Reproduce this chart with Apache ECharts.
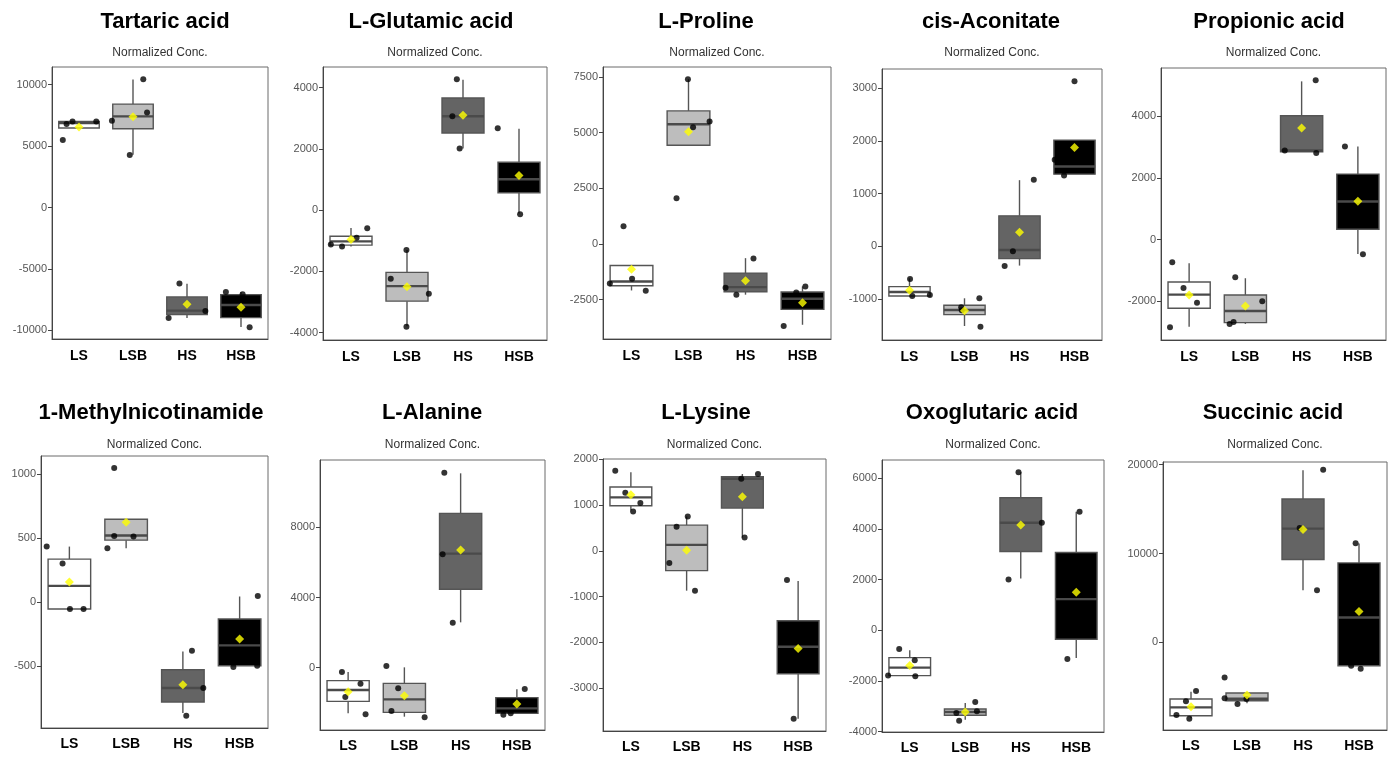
<!DOCTYPE html>
<html><head><meta charset="utf-8">
<script src="https://cdn.jsdelivr.net/npm/echarts@6/dist/echarts.min.js"></script>
<style>html,body{margin:0;padding:0;background:#fff}#c{width:1390px;height:759px}</style>
</head><body><div id="c"></div>
<script>
const categories = ['LS', 'LSB', 'HS', 'HSB'];
const titles = ['Tartaric acid', 'L-Glutamic acid', 'L-Proline', 'cis-Aconitate', 'Propionic acid',
  '1-Methylnicotinamide', 'L-Alanine', 'L-Lysine', 'Oxoglutaric acid', 'Succinic acid'];
const subtitle = 'Normalized Conc.';

// box stats per group: [lower whisker, Q1, median, Q3, upper whisker]
// points: [group, jitter offset, value]
const tartaricBox = [[6470, 6470, 6880, 7010, 7010], [4290, 6410, 7420, 8420, 10430], [-8990, -8720, -8400, -7280, -6200], [-9720, -8970, -7940, -7090, -6880]];
const tartaricPoints = [[0,-0.30,5490],[0,-0.23,6790],[0,-0.12,7010],[0,0.32,7010],[1,-0.39,7065],[1,-0.06,4266],[1,0.19,10435],[1,0.26,7745],[2,-0.34,-8995],[2,-0.14,-6196],[2,0.34,-8424],[3,-0.28,-6875],[3,0.03,-7065],[3,0.16,-9755]];
const tartaricMean = [6560, 7390, -7880, -8120];
const tartaricTicks = [-10000, -5000, 0, 5000, 10000];
const tartaricRange = [-10707, 11440];

const glutamicBox = [[-1190, -1140, -1020, -850, -580], [-3790, -2970, -2480, -2030, -1300], [2010, 2520, 3065, 3660, 4260], [-110, 565, 1010, 1565, 2660]];
const glutamicPoints = [[0,-0.36,-1120],[0,-0.16,-1185],[0,0.10,-902],[0,0.29,-587],[1,-0.29,-2239],[1,-0.01,-1304],[1,-0.01,-3804],[1,0.39,-2728],[2,-0.11,4272],[2,-0.19,3065],[2,-0.06,2011],[3,-0.38,2674],[3,0.02,-130]];
const glutamicMean = [-957, -2500, 3098, 1130];
const glutamicTicks = [-4000, -2000, 0, 2000, 4000];
const glutamicRange = [-4239, 4674];

const prolineBox = [[-2090, -1880, -1690, -970, -970], [4430, 4430, 5370, 5970, 7390], [-2280, -2150, -1940, -1310, -640], [-3630, -2940, -2460, -2160, -1910]];
const prolinePoints = [[0,-0.38,-1776],[0,-0.14,791],[0,0.01,-1567],[0,0.25,-2104],[1,-0.21,2045],[1,-0.01,7388],[1,0.08,5239],[1,0.37,5493],[2,-0.35,-1970],[2,-0.16,-2284],[2,0.14,-657],[3,-0.33,-3687],[3,0.05,-1910],[3,-0.11,-2180]];
const prolineMean = [-1134, 5030, -1657, -2642];
const prolineTicks = [-2500, 0, 2500, 5000, 7500];
const prolineRange = [-4269, 7940];

const aconitateBox = [[-950, -943, -867, -766, -608], [-1513, -1297, -1209, -1120, -987], [-367, -234, -70, 576, 1253], [1367, 1367, 1513, 2013, 2013]];
const aconitatePoints = [[0,0.01,-620],[0,0.05,-943],[0,0.37,-924],[1,-0.06,-1158],[1,0.27,-987],[1,0.29,-1525],[1,-0.05,-1215],[2,-0.27,-373],[2,-0.12,-95],[2,0.26,1259],[3,-0.36,1639],[3,-0.19,1342],[3,0.00,3127]];
const aconitateMean = [-835, -1222, 266, 1873];
const aconitateTicks = [-1000, 0, 1000, 2000, 3000];
const aconitateRange = [-1778, 3361];

const propionicBox = [[-2829, -2233, -1789, -1377, -770], [-2740, -2699, -2320, -1799, -1257], [2851, 2851, 2894, 4022, 5138], [-466, 336, 1236, 2125, 3024]];
const propionicPoints = [[0,-0.30,-737],[0,-0.10,-1572],[0,0.14,-2049],[0,-0.34,-2851],[1,-0.18,-1225],[1,-0.28,-2742],[1,-0.21,-2678],[1,0.30,-2005],[2,-0.30,2894],[2,0.25,5171],[2,0.26,2808],[3,-0.23,3024],[3,0.09,-477]];
const propionicMean = [-1800, -2157, 3621, 1247];
const propionicTicks = [-2000, 0, 2000, 4000];
const propionicRange = [-3263, 5572];

const methylBox = [[-54, -54, 127, 335, 433], [420, 483, 519, 646, 646], [-864, -778, -669, -527, -384], [-496, -496, -337, -132, 44]];
const methylPoints = [[0,-0.40,433],[0,-0.12,301],[0,0.01,-54],[0,0.25,-54],[1,-0.21,1046],[1,-0.33,420],[1,-0.21,516],[1,0.13,511],[2,0.16,-379],[2,0.06,-885],[2,0.36,-669],[3,0.32,47],[3,-0.11,-506],[3,0.31,-496]];
const methylMean = [156, 623, -643, -288];
const methylTicks = [-500, 0, 500, 1000];
const methylRange = [-981, 1139];

const alanineBox = [[-2603, -1919, -1273, -741, -247], [-2793, -2546, -1805, -893, 19], [2584, 4466, 6499, 8798, 11078], [-2603, -2603, -2318, -1710, -1235]];
const alaninePoints = [[0,-0.11,-247],[0,0.22,-912],[0,-0.05,-1672],[0,0.31,-2660],[1,-0.32,95],[1,-0.11,-1178],[1,-0.23,-2470],[1,0.36,-2831],[2,-0.29,11116],[2,-0.32,6461],[2,-0.14,2565],[3,0.14,-1216],[3,-0.24,-2679],[3,-0.11,-2603]];
const alanineMean = [-1368, -1596, 6708, -2071];
const alanineTicks = [0, 4000, 8000];
const alanineRange = [-3553, 11838];

const lysineBox = [[883, 985, 1168, 1394, 1715], [-869, -431, 131, 562, 752], [292, 935, 1577, 1620, 1679], [-3664, -2686, -2095, -1526, -657]];
const lysinePoints = [[0,-0.28,1752],[0,-0.10,1270],[0,0.17,1044],[0,0.04,861],[1,0.02,752],[1,-0.18,526],[1,-0.31,-263],[1,0.15,-869],[2,-0.02,1577],[2,0.28,1679],[2,0.04,292],[3,-0.20,-635],[3,-0.08,-3664]];
const lysineMean = [1226, 15, 1182, -2131];
const lysineTicks = [-3000, -2000, -1000, 0, 1000, 2000];
const lysineRange = [-3934, 2007];

const oxoglutaricBox = [[-1789, -1789, -1474, -1079, -789], [-3526, -3355, -3224, -3105, -2868], [2039, 3105, 4237, 5224, 6224], [-1092, -355, 1224, 3066, 4671]];
const oxoglutaricPoints = [[0,-0.19,-737],[0,0.09,-1184],[0,-0.39,-1789],[0,0.10,-1816],[1,0.18,-2829],[1,0.21,-3197],[1,-0.16,-3263],[1,-0.11,-3566],[2,-0.04,6224],[2,0.38,4237],[2,-0.22,2000],[3,0.06,4671],[3,-0.16,-1132]];
const oxoglutaricMean = [-1395, -3224, 4145, 1500];
const oxoglutaricTicks = [-4000, -2000, 0, 2000, 4000, 6000];
const oxoglutaricRange = [-4013, 6711];

const succinicBox = [[-8539, -8240, -7303, -6367, -5543], [-6854, -6554, -6330, -5693, -5693], [5880, 9326, 12809, 16142, 19363], [-2622, -2622, 2809, 8951, 11124]];
const succinicPoints = [[0,0.09,-5468],[0,-0.09,-6629],[0,-0.26,-8165],[0,-0.03,-8577],[1,-0.40,-3933],[1,-0.40,-6292],[1,-0.17,-6929],[1,-0.01,-6367],[2,0.36,19438],[2,-0.06,12884],[2,0.25,5880],[3,-0.06,11161],[3,0.03,-2959],[3,-0.14,-2622]];
const succinicMean = [-7228, -5918, 12697, 3483];
const succinicTicks = [0, 10000, 20000];
const succinicRange = [-9850, 20300];

const panels = [
  [tartaricBox, tartaricPoints, tartaricMean, tartaricTicks, tartaricRange],
  [glutamicBox, glutamicPoints, glutamicMean, glutamicTicks, glutamicRange],
  [prolineBox, prolinePoints, prolineMean, prolineTicks, prolineRange],
  [aconitateBox, aconitatePoints, aconitateMean, aconitateTicks, aconitateRange],
  [propionicBox, propionicPoints, propionicMean, propionicTicks, propionicRange],
  [methylBox, methylPoints, methylMean, methylTicks, methylRange],
  [alanineBox, alaninePoints, alanineMean, alanineTicks, alanineRange],
  [lysineBox, lysinePoints, lysineMean, lysineTicks, lysineRange],
  [oxoglutaricBox, oxoglutaricPoints, oxoglutaricMean, oxoglutaricTicks, oxoglutaricRange],
  [succinicBox, succinicPoints, succinicMean, succinicTicks, succinicRange]
];

// layout: plot rectangles [left, top, right, bottom]
const rects = [
  [52, 67, 268, 339], [323, 67, 547, 340], [603, 67, 831, 339], [882, 69, 1102, 340], [1161, 68, 1386, 340],
  [41, 456, 268, 728], [320, 460, 545, 730], [603, 459, 826, 731], [882, 460, 1104, 732], [1163, 462, 1387, 730]
];
const titleCx = [165, 431, 706, 991, 1269, 151, 432, 706, 992, 1273];
const FONT = "'Liberation Sans', Arial, sans-serif";
const fills = ['#ffffff', '#bdbdbd', '#646464', '#000000'];

const grid = [], xAxis = [], yAxis = [], series = [], graphic = [];
panels.forEach((p, i) => {
  const [box, pts, mean, ticks, range] = p;
  const r = rects[i];
  const row = i < 5 ? 0 : 1;
  grid.push({left: r[0], top: r[1], width: r[2] - r[0], height: r[3] - r[1], show: true,
    borderColor: '#6a6a6a', borderWidth: 1, backgroundColor: '#fff'});
  xAxis.push({type: 'category', gridIndex: i, data: categories, position: 'bottom',
    axisLine: {onZero: false, lineStyle: {color: '#444', width: 1}},
    axisTick: {alignWithLabel: true, length: 4, lineStyle: {color: '#444'}},
    axisLabel: {fontFamily: FONT, fontWeight: 'bold', fontSize: 14, color: '#000', margin: row ? 9 : 10},
    splitLine: {show: false}});
  xAxis.push({type: 'value', gridIndex: i, min: -0.5, max: 3.5, show: false,
    axisLine: {show: false, onZero: false}, axisTick: {show: false}, axisLabel: {show: false}, splitLine: {show: false}});
  yAxis.push({type: 'value', gridIndex: i, min: range[0], max: range[1], position: 'left',
    axisLine: {show: true, onZero: false, lineStyle: {color: '#444', width: 1}},
    axisTick: {show: true, length: 4, customValues: ticks, lineStyle: {color: '#444'}},
    axisLabel: {customValues: ticks, formatter: v => String(v), fontFamily: FONT, fontSize: 11, color: '#555', margin: 5},
    splitLine: {show: false}});
  series.push({type: 'custom', xAxisIndex: 2 * i, yAxisIndex: i, z: 2,
    data: box.map((b, k) => [k].concat(b)),
    encode: {x: 0, y: [1, 2, 3, 4, 5]},
    renderItem: (params, api) => {
      const k = api.value(0);
      const pl = api.coord([k, api.value(1)]);
      const p1 = api.coord([k, api.value(2)]);
      const pm = api.coord([k, api.value(3)]);
      const p3 = api.coord([k, api.value(4)]);
      const ph = api.coord([k, api.value(5)]);
      const w = api.size([1, 0])[0] * 0.75;
      const x = pl[0];
      const lc = '#555';
      return {type: 'group', children: [
        {type: 'line', shape: {x1: x, y1: ph[1], x2: x, y2: p3[1]}, style: {stroke: lc, lineWidth: 1.4}},
        {type: 'line', shape: {x1: x, y1: p1[1], x2: x, y2: pl[1]}, style: {stroke: lc, lineWidth: 1.4}},
        {type: 'rect', shape: {x: x - w / 2, y: p3[1], width: w, height: p1[1] - p3[1]},
          style: {fill: fills[k], stroke: lc, lineWidth: 1.4}},
        {type: 'line', shape: {x1: x - w / 2, y1: pm[1], x2: x + w / 2, y2: pm[1]}, style: {stroke: '#4a4a4a', lineWidth: 2.4}}
      ]};
    }});
  series.push({type: 'scatter', xAxisIndex: 2 * i + 1, yAxisIndex: i, z: 3,
    data: pts.map(q => [q[0] + q[1], q[2]]), symbolSize: 6,
    itemStyle: {color: '#000'}, silent: true});
  series.push({type: 'scatter', xAxisIndex: 2 * i + 1, yAxisIndex: i, z: 4,
    data: mean.map((m, k) => [k, m]), symbol: 'diamond', symbolSize: 9,
    itemStyle: {color: '#ffff00'}, silent: true});
  const ty = row ? 413 : 22, sy = row ? 445 : 53;
  graphic.push({type: 'text', x: titleCx[i], y: ty, style: {text: titles[i], font: "bold 22px " + FONT,
    fill: '#000', align: 'center', verticalAlign: 'middle'}});
  graphic.push({type: 'text', x: (r[0] + r[2]) / 2, y: sy, style: {text: subtitle, font: "12px " + FONT,
    fill: '#333', align: 'center', verticalAlign: 'middle'}});
});

const chart = echarts.init(document.getElementById('c'), null, {renderer: 'canvas'});
chart.setOption({animation: false, backgroundColor: '#fff', grid, xAxis, yAxis, series, graphic});
</script></body></html>
